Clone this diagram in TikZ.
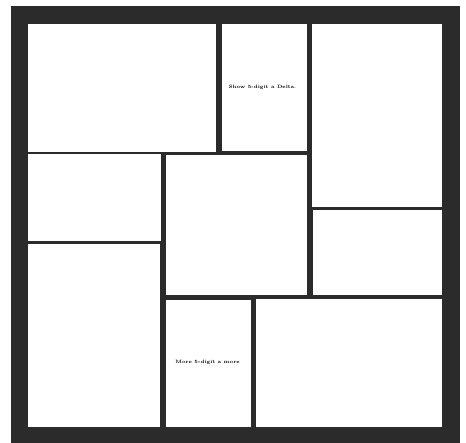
\documentclass[tikz,border=0pt]{standalone}
\begin{document}
\begin{tikzpicture}[x=1bp,y=-1bp,
  room/.style={fill=white},
  tinylabel/.style={font=\bfseries\fontsize{4.8}{5}\selectfont, text=black, inner sep=0pt}]
\definecolor{frame}{HTML}{2B2B2B}
\useasboundingbox (0,0) rectangle (466,443);
\fill[white] (0,0) rectangle (466,443);
\fill[frame] (11,5.7) rectangle (460.3,443);
% panels
\fill[room] (28.3,24) rectangle (215.7,151.7);
\fill[room] (221.7,24) rectangle (307,151);
\fill[room] (312.3,24) rectangle (442,206.7);
\fill[room] (28.3,154.3) rectangle (160.7,240.7);
\fill[room] (166,155.3) rectangle (307.3,294.7);
\fill[room] (312.7,210) rectangle (442.3,294.7);
\fill[room] (28.3,244.3) rectangle (160,426.5);
\fill[room] (166,300) rectangle (250.7,426.5);
\fill[room] (256,299.3) rectangle (442.3,426.5);
% labels
\node[tinylabel] (t1) at (262.5,87.5) {Show 5-digit a Delta.};
\node[tinylabel] (t2) at (207.5,362) {More 5-digit a more};
\end{tikzpicture}
\end{document}
